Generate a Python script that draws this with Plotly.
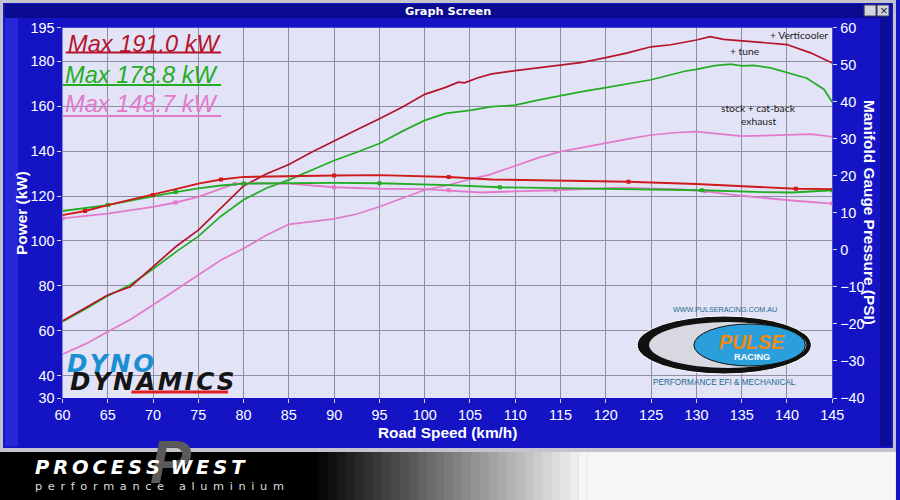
import plotly.graph_objects as go

# ---------------- data ----------------
red_speed = [60, 62.5, 65, 67.5, 70, 72.5, 75, 77.5, 80, 82.5, 85, 87.5, 90, 92.5, 95, 97.5, 100,
             102.3, 103.7, 104.4, 105.8, 107.4, 110, 112.5, 115, 117.2, 120, 122.4, 125, 127.2,
             130, 131.5, 133, 135, 137.9, 140, 142.6, 145]
red_kw = [64.3, 70.0, 75.9, 79.6, 88.5, 97.4, 104.8, 114.5, 124.5, 129.8, 134.0, 139.5, 144.6, 149.5,
          154.4, 159.6, 165.3, 168.4, 170.7, 170.4, 172.6, 174.4, 175.9, 177.0, 178.1, 179.4, 181.7,
          183.8, 186.5, 187.4, 189.5, 191.0, 189.8, 189.2, 188.2, 187.5, 183.8, 179.3]

green_speed = [60, 62.5, 65, 67.5, 70, 72.5, 75, 77.5, 80, 82.5, 85, 87.5, 90, 92.5, 95, 97.5, 100,
               102.3, 105, 107.4, 110, 112.5, 115, 117.5, 120, 122.8, 125, 128.7, 130, 132, 133.8,
               135, 136.3, 138.2, 140, 142.2, 144.1, 145]
green_kw = [64.0, 69.5, 75.5, 80.5, 87.5, 95.0, 102.0, 111.0, 118.3, 123.5, 127.2, 131.5, 135.8, 139.5,
            143.4, 148.8, 153.7, 156.8, 158.2, 159.8, 160.5, 162.7, 164.7, 166.6, 168.3, 170.2, 171.8,
            175.6, 176.4, 178.1, 178.8, 178.0, 178.2, 177.1, 174.9, 172.5, 167.5, 161.8]

pink_speed = [60, 62.5, 65, 67.5, 70, 72.5, 75, 77.5, 80, 82.5, 85, 87.5, 90, 92.5, 95, 97.5, 100,
              102.65, 105, 107.1, 110, 112.5, 115, 117.5, 120, 122.5, 125, 127.5, 130, 132.5, 135,
              137.5, 140, 142.7, 145]
pink_kw = [49.5, 54.0, 59.5, 65.0, 71.4, 78.0, 84.8, 91.5, 96.6, 102.5, 107.4, 108.6, 109.8, 112.0,
           115.2, 119.0, 122.7, 124.9, 127.5, 129.4, 133.5, 137.0, 139.8, 141.8, 143.5, 145.5, 147.2,
           148.2, 148.7, 147.8, 146.7, 146.9, 147.2, 147.6, 146.4]

red_psi_speed = [60, 62.5, 65, 67.5, 70, 72.5, 75, 77.5, 80, 85, 90, 95, 100, 102.65, 107.4, 115,
                 122.5, 130, 137, 141, 145]
red_psi = [9.4, 10.5, 12.1, 13.5, 14.8, 16.4, 17.9, 19.0, 19.7, 20.0, 20.1, 20.2, 20.0, 19.7, 19.0,
           18.6, 18.4, 17.8, 16.9, 16.5, 16.4]

green_psi_speed = [60, 62.5, 65, 67.5, 70, 72.5, 75, 77.5, 80, 85, 90, 95, 100, 102.65, 108.3, 115.6,
                   122.8, 130.6, 137.4, 140.6, 145]
green_psi = [10.5, 11.2, 12.1, 13.3, 14.5, 15.6, 16.6, 17.4, 17.9, 18.1, 18.1, 18.0, 17.8, 17.5, 16.9,
             16.6, 16.4, 16.1, 15.6, 15.5, 16.1]

pink_psi_speed = [60, 65, 70, 72.5, 75, 77.5, 79, 80, 85, 90, 95, 100, 102.65, 106.2, 110, 114.4,
                  121.6, 128.4, 131, 135, 141.2, 145]
pink_psi = [8.5, 9.8, 11.6, 12.8, 14.3, 16.5, 17.8, 18.0, 17.9, 16.9, 16.5, 16.4, 16.1, 15.5, 15.8,
            16.1, 16.8, 16.3, 15.8, 14.6, 13.2, 12.5]

x_ticks = list(range(60, 146, 5))
y_ticks = [30, 40, 60, 80, 100, 120, 140, 160, 180, 195]
legend_texts = ["Max 191.0 kW", "Max 178.8 kW", "Max 148.7 kW"]
note_texts = ["+ Verticooler", "+ tune", "stock + cat-back", "exhaust"]

RED, RED_P = "#b5142a", "#cf1a1a"
GREEN = "#22ad22"
PINK = "#e27acb"
WHITE = "#ffffff"
FONT = "Liberation Sans"
PLOT_BG = "#e3e3f8"
FRAME = "#1414c4"

W, H = 900, 500
# The photographed page is shown inset by 8px and shrunk to 884x484, so
# layout positions are given in picture pixels and mapped back to the figure.
PAD, KX, KY = 8, 884 / 900, 484 / 500
# plot area in picture pixels (left, top, right, bottom)
PL, PT, PR, PB = 62.7, 27.7, 836, 398


def px(x):
    return ((x - PAD) / KX) / W


def py(y):
    return 1 - ((y - PAD) / KY) / H


def fs(n):
    return round(n / 0.975, 1)


fig = go.Figure()

for sx, sy, c in [(pink_speed, pink_kw, PINK), (green_speed, green_kw, GREEN), (red_speed, red_kw, RED)]:
    fig.add_trace(go.Scatter(x=sx, y=sy, mode="lines", line=dict(color=c, width=1.7),
                             yaxis="y", hoverinfo="skip"))

for sx, sy, c in [(pink_psi_speed, pink_psi, PINK), (green_psi_speed, green_psi, GREEN),
                  (red_psi_speed, red_psi, RED_P)]:
    fig.add_trace(go.Scatter(x=sx, y=sy, mode="lines+markers", line=dict(color=c, width=1.9),
                             marker=dict(color=c, size=4, symbol="square", maxdisplayed=10),
                             yaxis="y2", hoverinfo="skip"))

tickfont = dict(family=FONT, size=fs(14), color=WHITE)
fig.update_layout(
    width=W, height=H, margin=dict(l=0, r=0, t=0, b=0),
    paper_bgcolor=FRAME, plot_bgcolor=PLOT_BG, showlegend=False,
    xaxis=dict(domain=[px(PL), px(PR)], range=[60, 145], tickvals=x_ticks,
               ticks="outside", ticklen=4, tickcolor="#d8d8e8", tickfont=tickfont,
               showgrid=True, gridcolor="#8e8e9e", gridwidth=1, zeroline=False, showline=False),
    yaxis=dict(domain=[py(PB), py(PT)], range=[30, 195], tickvals=y_ticks,
               ticks="outside", ticklen=4, tickcolor="#d8d8e8", tickfont=tickfont,
               showgrid=True, gridcolor="#8e8e9e", gridwidth=1, zeroline=False, showline=False),
    yaxis2=dict(overlaying="y", side="right", anchor="x", range=[-40, 60], dtick=10,
                ticks="outside", ticklen=4, tickcolor="#d8d8e8", tickfont=tickfont,
                showgrid=False, zeroline=False, showline=False),
)


def rect(x0, y0, x1, y1, fill, line=None, layer="below"):
    return dict(type="rect", xref="paper", yref="paper", x0=px(x0), x1=px(x1), y0=py(y1), y1=py(y0),
                fillcolor=fill, line=line or dict(width=0), layer=layer)


def ellipse(x0, y0, x1, y1, fill, line=None):
    return dict(type="circle", xref="paper", yref="paper", x0=px(x0), x1=px(x1), y0=py(y1), y1=py(y0),
                fillcolor=fill, line=line or dict(width=0), layer="above")


def hline(x0, x1, y, color, width):
    return dict(type="line", xref="paper", yref="paper", x0=px(x0), x1=px(x1), y0=py(y), y1=py(y),
                line=dict(color=color, width=width))


shapes = []
# window frame
shapes.append(rect(0, 0, 900, 452, "#c4c4cc"))
shapes.append(rect(3, 3, 897, 448, FRAME))
shapes.append(rect(5, 18, 18, 446, "#2626da"))
shapes.append(rect(884, 18, 895, 446, "#0c0c9a"))
shapes.append(rect(5, 4, 895, 18, "#0b0b92"))
# plot area background
shapes.append(rect(PL, PT, PR, PB, PLOT_BG))
# window buttons
for bx in (868, 881):
    shapes.append(rect(bx, 5, bx + 12, 16, "#d4d4dc", line=dict(color="#404060", width=1)))
# bottom strip with stepped gradient
shapes.append(rect(0, 452, 900, 500, "#000000"))
steps = 30
for i in range(steps):
    x0 = 320 + i * 9
    g = int(min(255, (i + 1) / steps * 245))
    shapes.append(rect(x0, 452, x0 + 9.5, 500, f"rgb({g},{g},{g})"))
shapes.append(rect(590, 452, 900, 500, "#f6f6f6"))
# legend underlines
for (x0, yl, c) in [(66, 52.5, RED), (63, 85, GREEN), (63, 116, PINK)]:
    shapes.append(hline(x0, 222, yl, c, 2))
# Dyno Dynamics swoosh
shapes.append(hline(132, 229, 392, "#e02020", 3))
# Pulse racing logo
shapes.append(ellipse(640, 316, 815, 374, "#111111", dict(color="#ffffff", width=1)))
shapes.append(ellipse(652, 322, 810, 368, "#d8d8e0"))
shapes.append(ellipse(697, 324, 809, 366, "#2a9fdc", dict(color="#111111", width=1)))
fig.update_layout(shapes=shapes)


def text(x, y, s, size, color, family=FONT, xanchor="center", angle=0):
    return dict(x=px(x), y=py(y), xref="paper", yref="paper", text=s, showarrow=False,
                xanchor=xanchor, yanchor="middle", textangle=angle,
                font=dict(family=family, size=fs(size), color=color))


HS = "\u200a"
ann = []
# Process West logo mark (drawn first so texts sit on top)
ann.append(text(172, 461, "<b><i>P</i></b>", 60, "#5a5a5a"))
ann.append(text(450, 11, "<b>Graph Screen</b>", 11, WHITE, family="DejaVu Sans"))
ann.append(text(887.5, 10.5, "×", 13, "#202040"))
ann.append(text(21, 213, "<b>Power (kW)</b>", 15, WHITE, angle=-90))
ann.append(text(873, 212, "<b>Manifold Gauge Pressure (PSI)</b>", 15, WHITE, angle=90))
ann.append(text(449, 432, "<b>Road Speed (km/h)</b>", 15, WHITE))
for t, x0, yc, c in zip(legend_texts, [66, 63, 63], [43.5, 74.5, 104], [RED, GREEN, PINK]):
    ann.append(text(x0, yc, f"<i>{t}</i>", 23, c, xanchor="left"))
for t, x0, yc in zip(note_texts, [803, 748, 762, 762], [35, 51, 108, 121]):
    ann.append(text(x0, yc, t, 10, "#202020", family="Lato"))
# Dyno Dynamics logo text
ann.append(text(65, 363, "<b><i>" + HS.join("DYNO") + "</i></b>", 24, "#1b8fd2",
                family="DejaVu Sans", xanchor="left"))
ann.append(text(68, 381, "<b><i>" + HS.join("DYNAMICS") + "</i></b>", 24, "#151515",
                family="DejaVu Sans", xanchor="left"))
# Pulse racing logo text
ann.append(text(755, 342, "<b><i>PULSE</i></b>", 19, "#f08a10"))
ann.append(text(755, 357, "<b>RACING</b>", 9, WHITE))
ann.append(text(728, 309, "WWW.PULSERACING.COM.AU", 7, "#1a6a8a"))
ann.append(text(728, 382, "PERFORMANCE EFI &amp; MECHANICAL", 8, "#1a6a8a"))
# Process West branding
ann.append(text(33, 467, "<b><i>P\u2009R\u2009O\u2009C\u2009E\u2009S\u2009S\u2009 W\u2009E\u2009S\u2009T</i></b>",
                19, WHITE, family="DejaVu Sans", xanchor="left"))
ann.append(text(33, 486, "p\u2002e\u2002r\u2002f\u2002o\u2002r\u2002m\u2002a\u2002n\u2002c\u2002e\u2003 "
                         "a\u2002l\u2002u\u2002m\u2002i\u2002n\u2002i\u2002u\u2002m",
                11, "#dddddd", family="DejaVu Sans", xanchor="left"))
fig.update_layout(annotations=ann)

fig.write_html("out.html", config={"displayModeBar": False},
               post_script="document.body.style.margin='0px';")
